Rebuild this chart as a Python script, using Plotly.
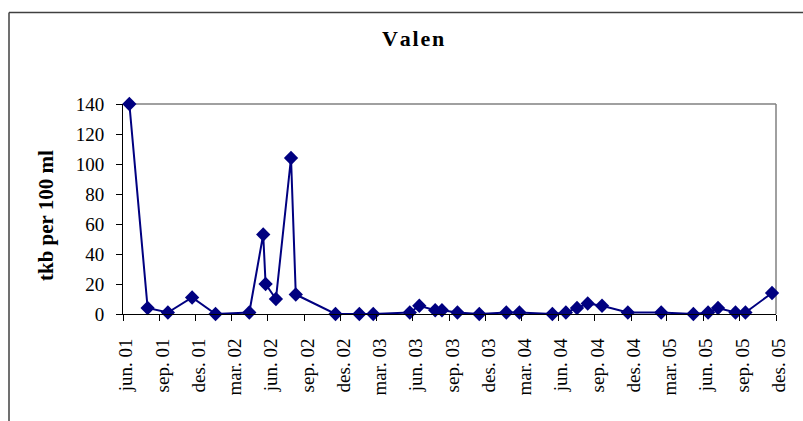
import plotly.graph_objects as go

dates = ["2001-06-17", "2001-08-02", "2001-09-22", "2001-11-22", "2002-01-20",
         "2002-04-15", "2002-05-20", "2002-05-26", "2002-06-21", "2002-07-29",
         "2002-08-10", "2002-11-18", "2003-01-17", "2003-02-21", "2003-05-24",
         "2003-06-17", "2003-07-27", "2003-08-13", "2003-09-21", "2003-11-15",
         "2004-01-22", "2004-02-24", "2004-05-17", "2004-06-20", "2004-07-18",
         "2004-08-14", "2004-09-19", "2004-11-23", "2005-02-15", "2005-05-07",
         "2005-06-13", "2005-07-08", "2005-08-21", "2005-09-15", "2005-11-21"]
values = [140, 4, 1, 11, 0,
          1, 53, 20, 10, 104,
          13, 0, 0, 0, 1,
          5.5, 2.5, 2.5, 1, 0,
          1, 1, 0, 1, 4,
          7, 5.5, 1, 1, 0,
          1, 4, 1, 1, 14]

tick_dates = ["2001-06-01", "2001-09-01", "2001-12-01", "2002-03-01", "2002-06-01",
              "2002-09-01", "2002-12-01", "2003-03-01", "2003-06-01", "2003-09-01",
              "2003-12-01", "2004-03-01", "2004-06-01", "2004-09-01", "2004-12-01",
              "2005-03-01", "2005-06-01", "2005-09-01", "2005-12-01"]
tick_labels = ["jun. 01", "sep. 01", "des. 01", "mar. 02", "jun. 02",
               "sep. 02", "des. 02", "mar. 03", "jun. 03", "sep. 03",
               "des. 03", "mar. 04", "jun. 04", "sep. 04", "des. 04",
               "mar. 05", "jun. 05", "sep. 05", "des. 05"]
y_ticks = [0, 20, 40, 60, 80, 100, 120, 140]

navy = "#000080"
serif = "Liberation Serif, Times New Roman, serif"

fig = go.Figure()
fig.add_trace(go.Scatter(
    x=dates, y=values, mode="lines+markers",
    line=dict(color=navy, width=2),
    marker=dict(symbol="diamond", size=11, color=navy),
    cliponaxis=False, showlegend=False,
))

W, H = 803, 421
L, R, T, B = 123, 27, 104, 107
pw, ph = W - L - R, H - T - B

def px_x(p):
    return (p - L) / pw

def px_y(p):
    return (H - B - p) / ph

fig.update_layout(
    width=W, height=H,
    margin=dict(l=L, r=R, t=T, b=B, autoexpand=False),
    paper_bgcolor="white", plot_bgcolor="white",
    font=dict(family=serif, size=19, color="black"),
    xaxis=dict(
        type="date", range=[tick_dates[0], tick_dates[-1]],
        tickmode="array", tickvals=tick_dates, ticktext=tick_labels,
        tickangle=-90, ticks="outside", ticklen=6, tickcolor="black",
        ticklabelstandoff=10, ticklabelshift=3,
        showline=True, linecolor="black", linewidth=1,
        showgrid=False, zeroline=False, automargin=False,
        tickfont=dict(family=serif, size=19),
    ),
    yaxis=dict(
        range=[0, 140], tickmode="array", tickvals=y_ticks,
        ticks="outside", ticklen=6, tickcolor="black",
        ticklabelstandoff=8,
        showline=True, linecolor="black", linewidth=1,
        showgrid=False, zeroline=False, automargin=False,
        tickfont=dict(family=serif, size=19),
    ),
    shapes=[
        dict(type="line", xref="paper", yref="paper", x0=0, x1=1, y0=1, y1=1,
             line=dict(color="#808080", width=1.5), layer="below"),
        dict(type="line", xref="paper", yref="paper", x0=1, x1=1, y0=0, y1=1,
             line=dict(color="#808080", width=1.5), layer="below"),
        dict(type="line", xref="paper", yref="paper", x0=px_x(9), x1=px_x(W + 20),
             y0=px_y(12.5), y1=px_y(12.5), line=dict(color="#404040", width=1.5)),
        dict(type="line", xref="paper", yref="paper", x0=px_x(9), x1=px_x(9),
             y0=px_y(12.5), y1=px_y(H + 20), line=dict(color="#404040", width=1.5)),
    ],
    annotations=[
        dict(text="<b>V&#8202;a&#8202;l&#8202;e&#8202;n</b>", xref="paper", yref="paper",
             x=px_x(413), y=px_y(38.6), xanchor="center", yanchor="middle",
             showarrow=False, font=dict(family=serif, size=22, color="black")),
        dict(text="<b>tkb per 100 ml</b>", xref="paper", yref="paper",
             x=px_x(46), y=px_y(216), xanchor="center", yanchor="middle",
             showarrow=False, textangle=-90,
             font=dict(family=serif, size=21, color="black")),
    ],
)

fig.write_html("out.html", config={"displayModeBar": False},
               post_script="document.body.style.margin='0';document.body.style.overflow='hidden';")
